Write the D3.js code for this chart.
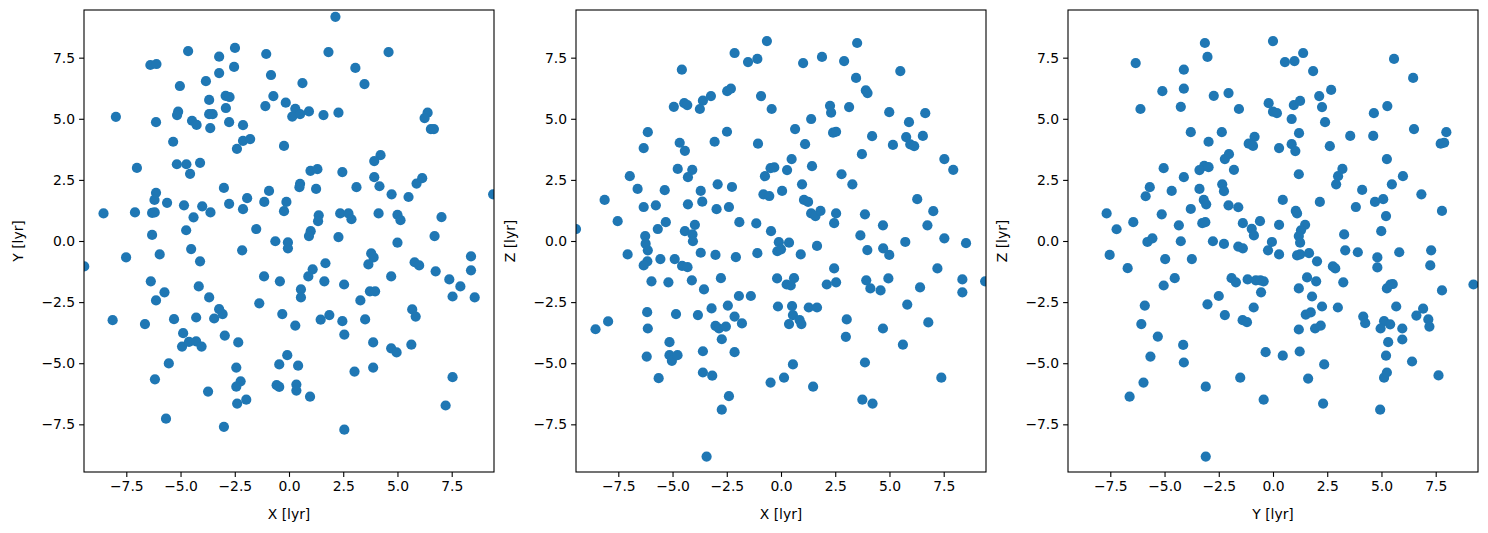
<!DOCTYPE html>
<html>
<head>
<meta charset="utf-8">
<script src="https://cdn.jsdelivr.net/npm/d3@7"></script>
<style>
	body { margin: 0; background: #fff; }
	svg { display: block; }
	text { font-family: "DejaVu Sans", sans-serif; fill: #000; }
</style>
</head>
<body>
<div id="chart"></div>
<script>

var xyPoints = [
	[-4.65,7.77],[-3.22,7.54],[-2.49,7.90],[-1.05,7.65],[-6.39,7.20],[-6.11,7.24],[-2.53,7.12],[-3.22,6.87],[-0.83,6.79],[-5.03,6.34],
	[-3.83,6.54],[-2.92,5.94],[-2.74,5.89],[-0.72,5.93],[-3.68,5.77],[-1.09,5.52],[-0.15,5.66],[-2.91,5.44],[-5.11,5.29],[-5.16,5.15],
	[-3.68,5.19],[-3.52,5.19],[-7.98,5.08],[-6.13,4.86],[-4.47,4.92],[-4.26,4.75],[-3.63,4.62],[-2.76,4.86],[-2.12,4.74],[-5.34,4.06],
	[-2.12,4.10],[-1.79,4.17],[-2.40,3.77],[-0.23,3.89],[-7.01,2.99],[-5.17,3.14],[-4.73,3.14],[-4.10,3.20],[-4.56,2.75],[-3.00,2.17],
	[-0.92,2.05],[-6.13,1.97],[-6.20,1.68],[-1.93,1.75],[-5.62,1.56],[-4.84,1.46],[-2.76,1.52],[-1.14,1.60],[-0.12,1.60],[-8.55,1.13],
	[-7.10,1.17],[-6.31,1.15],[-6.19,1.17],[-4.00,1.42],[-3.62,1.17],[-4.40,0.97],[-2.12,1.30],[-0.23,1.22],[-4.74,0.44],[-1.51,0.49],
	[-6.31,0.25],[-0.63,-0.01],[-0.05,-0.06],
	[-9.44,-1.04],[-7.51,-0.67],[-5.96,-0.55],[-4.51,-0.33],[-4.10,-0.83],[-2.16,-0.38],[-0.05,-0.30],[-6.37,-1.65],[-5.74,-2.10],[-6.13,-2.43],
	[-4.16,-1.86],[-3.68,-2.31],[-1.15,-1.45],[-0.42,-1.65],[-1.37,-2.55],[-0.31,-2.99],[-8.13,-3.24],[-6.64,-3.40],[-5.30,-3.20],[-4.28,-3.13],
	[-3.45,-3.17],[-3.22,-2.79],[-3.06,-2.99],[-4.88,-3.77],[-4.93,-4.32],[-4.61,-4.13],[-4.28,-4.11],[-4.03,-4.32],[-2.96,-3.87],[-2.34,-4.15],
	[-0.08,-4.67],[-5.54,-5.01],[-2.43,-5.18],[-0.45,-5.05],[-6.18,-5.66],[-2.23,-5.74],[-2.43,-5.96],[-0.57,-5.90],[-0.45,-5.97],[-3.73,-6.16],
	[-1.97,-6.49],[-2.39,-6.65],[-5.67,-7.27],[-3.00,-7.60],
	[2.14,9.17],[1.82,7.73],[4.59,7.73],[3.06,7.08],[0.62,6.46],[3.48,6.42],[0.29,5.41],[0.15,5.09],[0.51,5.19],[0.92,5.30],
	[1.59,5.15],[2.28,5.25],[6.39,5.25],[6.25,5.03],[6.54,4.58],[6.68,4.58],[4.22,3.51],[3.93,3.27],[0.99,2.87],[1.31,2.94],
	[2.46,2.82],[3.93,2.61],[4.17,2.24],[0.51,2.34],[0.48,2.20],[1.25,2.13],[3.11,2.20],[5.88,2.35],[6.14,2.57],[4.73,1.91],
	[5.51,1.80],[9.41,1.91],[1.37,1.05],[1.34,0.81],[2.36,1.13],[2.74,1.13],[2.88,0.89],[4.13,1.13],[5.00,1.07],[5.14,0.85],
	[7.03,0.98],[1.00,0.40],[0.92,0.20],[2.28,0.16],[6.71,0.20],[5.00,-0.07],
	[3.79,-0.51],[3.90,-0.67],[3.66,-0.96],[1.68,-0.91],[1.09,-1.16],[0.89,-1.45],[5.79,-0.87],[6.00,-1.00],[8.39,-0.63],[8.39,-1.20],
	[4.71,-1.45],[6.76,-1.24],[7.39,-1.57],[7.90,-1.86],[7.54,-2.27],[8.56,-2.31],[1.63,-1.65],[2.54,-1.78],[0.55,-1.98],[0.55,-2.31],
	[3.73,-2.06],[3.97,-2.06],[3.29,-2.43],[0.29,-3.46],[1.46,-3.22],[1.86,-3.03],[2.46,-3.28],[2.55,-3.83],[3.51,-3.21],[5.68,-2.80],
	[5.84,-3.09],[0.42,-5.10],[0.34,-5.87],[0.34,-6.12],[0.97,-6.37],[3.88,-4.15],[4.71,-4.39],[4.96,-4.56],[5.64,-4.24],[3.88,-5.18],
	[3.02,-5.34],[7.54,-5.57],[7.22,-6.73],[2.55,-7.72]
];

var xzPoints = [
	[-0.65,8.18],[-2.14,7.69],[-1.52,7.32],[-1.09,7.45],[-4.57,7.01],[-2.48,6.13],[-2.31,6.23],[-0.92,5.93],[-0.43,5.40],[-4.94,5.49],
	[-4.46,5.64],[-4.32,5.56],[-3.60,5.74],[-3.23,5.93],[-3.74,5.40],[-6.14,4.45],[-6.33,3.80],[-4.67,4.02],[-4.43,3.69],[-3.06,4.06],
	[-2.49,4.47],[-1.06,3.98],[-6.97,2.65],[-6.61,2.13],[-4.76,2.95],[-4.09,2.91],[-4.29,2.61],[-2.92,2.32],[-2.26,2.21],[-3.70,2.05],
	[-3.63,1.61],[-0.74,2.65],[-0.48,2.98],[-0.31,3.01],[-0.81,1.91],[-0.54,1.84],[-8.13,1.68],[-6.33,1.39],[-5.77,1.46],[-5.36,2.08],
	[-4.29,1.50],[-2.97,1.30],[-2.40,1.39],[-7.53,0.81],[-9.45,0.49],[-5.68,0.49],[-5.31,0.77],[-4.43,0.40],[-4.08,0.27],[-3.97,0.66],
	[-1.92,0.77],[-1.14,0.72],[-0.46,0.40],[-6.26,0.20],[-4.06,-0.01],
	[-6.24,-0.11],[-6.14,-0.38],[-7.07,-0.55],[-6.16,-0.83],[-6.33,-1.00],[-5.56,-0.74],[-4.90,-0.74],[-4.56,-1.02],[-4.31,-1.07],[-3.70,-0.48],
	[-3.02,-0.57],[-2.08,-0.66],[-1.09,-0.50],[-5.97,-1.65],[-5.19,-1.69],[-4.11,-1.61],[-3.55,-1.98],[-2.77,-1.52],[-0.18,-1.53],[-1.94,-2.25],
	[-1.39,-2.25],[-2.45,-2.64],[-3.20,-2.76],[-3.83,-3.03],[-4.84,-2.99],[-6.17,-2.91],[-0.14,-2.68],[-7.97,-3.29],[-8.55,-3.61],[-6.14,-3.58],
	[-2.14,-3.09],[-1.80,-3.37],[-3.02,-3.47],[-2.86,-3.58],[-2.54,-3.50],[-2.73,-4.02],[-5.14,-4.14],[-6.19,-4.73],[-5.14,-4.67],[-5.03,-4.90],
	[-4.77,-4.67],[-3.60,-4.51],[-2.14,-4.55],[-3.60,-5.38],[-3.17,-5.51],[-5.64,-5.61],[-0.48,-5.79],[-2.40,-6.35],[-2.73,-6.90],[-3.43,-8.82],
	[3.51,8.10],[1.89,7.53],[1.02,7.28],[2.91,7.36],[5.50,6.95],[3.46,6.67],[3.91,6.16],[3.99,6.05],[2.26,5.53],[2.31,5.25],
	[3.14,5.48],[4.99,5.27],[6.65,5.23],[1.39,4.99],[5.90,4.86],[0.65,4.58],[2.40,4.43],[2.54,4.47],[4.20,4.29],[5.77,4.25],
	[5.96,3.95],[6.14,3.88],[6.54,4.30],[5.16,3.93],[1.11,3.96],[3.73,3.55],[0.49,3.35],[0.28,2.90],[1.43,3.06],[2.79,2.73],
	[3.29,2.32],[7.53,3.35],[7.94,2.91],[0.05,2.05],[0.97,2.32],[1.06,1.68],[1.25,1.60],[1.39,1.13],[1.59,1.02],[1.82,1.23],
	[2.54,1.13],[2.45,0.73],[3.87,1.09],[4.70,0.64],[6.28,1.71],[7.02,1.22],[6.75,0.64],[3.66,0.23],[7.53,0.11],
	[-0.10,-0.05],[0.37,-0.07],[-0.17,-0.42],[0.00,-0.34],[1.66,-0.20],[0.91,-0.55],[3.98,-0.37],[4.71,-0.30],[4.99,-0.57],[5.73,-0.04],
	[8.53,-0.09],[2.45,-1.12],[7.21,-1.12],[0.60,-1.52],[0.26,-1.78],[0.45,-1.82],[2.11,-1.78],[2.54,-1.69],[3.93,-1.61],[4.12,-1.94],
	[4.59,-2.02],[4.95,-1.53],[6.41,-1.90],[8.36,-1.57],[8.36,-2.10],[9.41,-1.65],[0.51,-2.66],[0.55,-3.03],[0.86,-3.24],[0.94,-3.40],
	[0.37,-3.40],[1.28,-2.72],[1.66,-2.72],[3.03,-3.21],[2.99,-3.92],[4.70,-3.58],[5.82,-2.60],[6.79,-3.33],[5.62,-4.24],[0.55,-5.05],
	[0.14,-5.59],[1.48,-5.96],[3.87,-4.97],[7.39,-5.59],[3.75,-6.49],[4.22,-6.65]
];

var yzPoints = [
	[-3.14,8.10],[-3.02,7.53],[-6.33,7.28],[-4.11,7.01],[0.00,8.18],[-5.10,6.13],[-4.11,6.23],[-2.73,5.94],[-2.05,6.05],[-6.11,5.40],
	[-4.25,5.49],[-1.57,5.40],[-0.20,5.64],[0.00,5.29],[-3.79,4.45],[-2.36,4.45],[-2.97,4.06],[-0.85,4.26],[-1.12,3.98],[-0.92,3.89],
	[-5.04,2.98],[-4.11,2.61],[-3.17,3.07],[-3.39,2.90],[-2.97,3.02],[-2.22,3.35],[-2.03,3.55],[-1.80,2.91],[-5.68,2.20],[-5.87,1.83],
	[-4.67,2.05],[-3.39,2.13],[-2.34,2.32],[-2.26,2.04],[-3.19,1.68],[-3.08,1.50],[-3.79,1.31],[-2.05,1.46],[-1.60,1.38],[-7.67,1.13],
	[-5.13,1.09],[-7.21,0.48],[-6.44,0.77],[-4.34,0.64],[-3.26,0.73],[-3.12,0.77],[-1.39,0.73],[-0.98,0.50],[-0.88,0.23],[-0.60,0.81],
	[-5.79,-0.04],[-5.56,0.11],[-4.25,-0.01],[-2.77,-0.01],[-2.26,-0.12],
	[-1.60,-0.23],[-1.39,-0.30],[-0.23,-0.38],[-0.05,-0.04],[-7.53,-0.57],[-6.70,-1.11],[-4.97,-0.74],[-3.74,-0.74],[-4.53,-1.52],[-5.04,-1.82],
	[-1.91,-1.52],[-1.71,-1.69],[-1.17,-1.57],[-0.79,-1.61],[-0.58,-1.61],[-0.43,-1.65],[-0.55,-2.10],[-2.50,-2.25],[-3.02,-2.59],[-0.89,-2.72],
	[-5.91,-2.64],[-2.22,-3.03],[-1.40,-3.24],[-1.20,-3.32],[-6.07,-3.40],[-5.31,-3.91],[-4.14,-4.25],[-5.65,-4.73],[-4.11,-4.97],[-0.34,-4.55],
	[-1.51,-5.59],[-5.97,-5.79],[-3.10,-5.96],[-6.61,-6.37],[-0.43,-6.49],[-3.10,-8.82],
	[0.55,7.32],[0.99,7.36],[1.39,7.69],[1.85,6.95],[5.58,7.45],[6.46,6.67],[2.68,6.18],[2.13,5.93],[2.26,5.48],[0.96,5.56],
	[1.25,5.73],[0.18,5.23],[0.86,4.99],[2.40,4.86],[4.65,5.23],[5.27,5.52],[1.20,4.41],[3.56,4.30],[4.62,4.30],[6.50,4.58],
	[7.99,4.45],[7.73,3.98],[7.89,4.02],[0.28,3.80],[0.86,3.96],[1.03,3.68],[2.62,3.88],[5.25,3.35],[1.19,2.73],[3.20,2.95],
	[3.00,2.65],[2.91,2.32],[5.48,2.32],[5.99,2.65],[6.84,1.91],[0.45,1.68],[2.16,1.60],[4.11,2.09],[3.82,1.39],[4.70,1.60],
	[5.08,1.71],[5.21,1.02],[7.79,1.23],[1.05,1.23],[1.11,1.13],[0.28,0.66],[1.48,0.66],[1.29,0.44],[1.19,0.20],[1.25,-0.07],
	[3.28,0.27],[4.99,0.40],
	[0.28,-0.55],[1.11,-0.59],[1.25,-0.55],[1.66,-0.50],[2.03,-0.83],[3.33,-0.38],[3.91,-0.46],[4.81,-0.67],[4.81,-1.08],[5.82,-0.46],
	[7.29,-0.38],[7.25,-1.00],[2.76,-1.04],[2.87,-1.12],[1.57,-1.49],[1.99,-1.65],[1.19,-1.94],[1.80,-2.27],[3.24,-1.69],[5.25,-1.94],
	[5.41,-1.78],[5.52,-1.76],[7.79,-2.02],[9.24,-1.78],[2.26,-2.68],[2.99,-2.72],[1.51,-3.01],[1.74,-2.92],[5.68,-2.68],[6.61,-3.05],
	[6.92,-2.77],[7.16,-3.21],[7.21,-3.50],[4.16,-3.09],[4.25,-3.36],[5.12,-3.28],[4.96,-3.58],[5.40,-3.41],[5.96,-3.58],[5.96,-4.03],
	[5.31,-4.14],[1.19,-3.62],[1.94,-3.58],[2.20,-3.46],[0.45,-4.69],[1.23,-4.52],[2.36,-5.05],[5.21,-4.69],[6.41,-4.93],[1.62,-5.63],
	[5.12,-5.59],[5.25,-5.38],[7.63,-5.50],[2.31,-6.65],[4.94,-6.90]
];

var tickValues = [-7.5, -5.0, -2.5, 0.0, 2.5, 5.0, 7.5];
var axisLimit = 9.45;

var panels = [
	{ left: 84, xlabel: "X [lyr]", ylabel: "Y [lyr]", points: xyPoints },
	{ left: 576, xlabel: "X [lyr]", ylabel: "Z [lyr]", points: xzPoints },
	{ left: 1068, xlabel: "Y [lyr]", ylabel: "Z [lyr]", points: yzPoints }
];

var width = 1488, height = 533;
var plotW = 410, plotTop = 10, plotBottom = 472;

var svg = d3.select("#chart").append("svg")
	.attr("width", width)
	.attr("height", height);

function fmt(v) {
	return d3.format(".1f")(v).replace("-", "\u2212");
}

panels.forEach(function (p, i) {
	var x = d3.scaleLinear().domain([-axisLimit, axisLimit]).range([p.left, p.left + plotW]);
	var y = d3.scaleLinear().domain([-axisLimit, axisLimit]).range([plotBottom, plotTop]);

	var g = svg.append("g");

	/* recorte para que los puntos del borde queden cortados */
	g.append("clipPath")
		.attr("id", "clip" + i)
		.append("rect")
		.attr("x", p.left)
		.attr("y", plotTop)
		.attr("width", plotW)
		.attr("height", plotBottom - plotTop);

	g.append("g")
		.attr("clip-path", "url(#clip" + i + ")")
		.selectAll("circle")
		.data(p.points)
		.enter()
		.append("circle")
		.attr("cx", function (d) { return x(d[0]); })
		.attr("cy", function (d) { return y(d[1]); })
		.attr("r", 5.1)
		.attr("fill", "#1f77b4");

	var xAxis = d3.axisBottom(x).tickValues(tickValues).tickSize(4.9).tickPadding(4).tickFormat(fmt);
	var yAxis = d3.axisLeft(y).tickValues(tickValues).tickSize(4.9).tickPadding(4).tickFormat(fmt);

	var gx = g.append("g").attr("transform", "translate(0," + plotBottom + ")").call(xAxis);
	var gy = g.append("g").attr("transform", "translate(" + p.left + ",0)").call(yAxis);

	[gx, gy].forEach(function (a) {
		a.select(".domain").remove();
		a.selectAll("line").attr("stroke", "#000").attr("stroke-width", 1.1);
		a.selectAll("text").attr("font-size", 13.9).attr("font-family", "DejaVu Sans").attr("fill", "#000");
	});
	gx.selectAll("text").attr("dy", "0.75em");

	// marco
	g.append("rect")
		.attr("x", p.left)
		.attr("y", plotTop)
		.attr("width", plotW)
		.attr("height", plotBottom - plotTop)
		.attr("fill", "none")
		.attr("stroke", "#000")
		.attr("stroke-width", 1.1);

	g.append("text")
		.attr("x", p.left + plotW / 2)
		.attr("y", 519)
		.attr("text-anchor", "middle")
		.attr("font-size", 13.9)
		.text(p.xlabel);

	g.append("text")
		.attr("transform", "translate(" + (p.left - 61) + "," + ((plotTop + plotBottom) / 2) + ") rotate(-90)")
		.attr("text-anchor", "middle")
		.attr("font-size", 13.9)
		.text(p.ylabel);
});
</script>
</body>
</html>
